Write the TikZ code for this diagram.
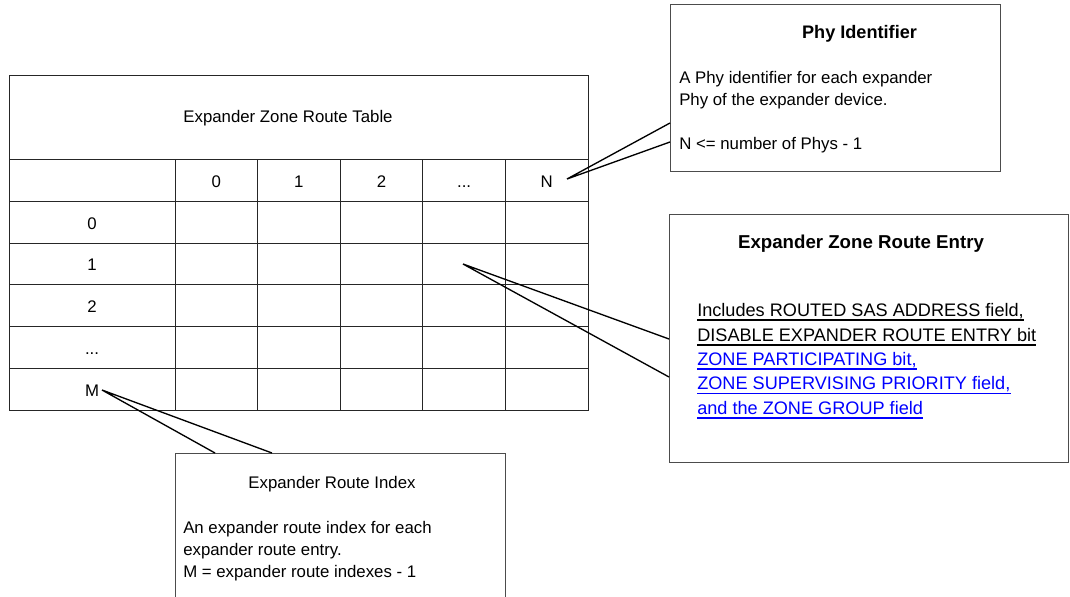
\documentclass[tikz,border=0pt]{standalone}
\usepackage{fontspec}
\setmainfont{Liberation Sans}
\newcommand\nsize{\fontsize{12.6pt}{15pt}\selectfont}
\newcommand\esize{\fontsize{13.6pt}{16pt}\selectfont}
\newcommand\tsize{\fontsize{14pt}{16pt}\selectfont}
\begin{document}
\begin{tikzpicture}[x=0.75pt,y=-0.75pt,
  tbl/.style={draw=black!85, line width=0.7pt},
  boxst/.style={draw=black!70, line width=0.8pt, fill=white, inner sep=0pt, anchor=north west},
  lbl/.style={inner sep=0pt, anchor=base, font=\nsize},
  body/.style={inner sep=0pt, anchor=base west, font=\nsize},
  ebody/.style={inner sep=0pt, anchor=base west, font=\esize},
  ttl/.style={inner sep=0pt, anchor=base, font=\esize\bfseries},
  uline/.style={line width=0.9pt},
  callout/.style={draw=black, line width=1pt}]
\useasboundingbox (0,0) rectangle (1070,596);
\clip (0,0) rectangle (1070,596);
% table
\draw[tbl] (9,75) rectangle (588,410);
\foreach \yy in {159,201,243,284,326,368}
  \draw[tbl] (9,\yy) -- (588,\yy);
\foreach \xx in {175,257.6,340.2,422.8,505.4}
  \draw[tbl] (\xx,159) -- (\xx,410);
\node[lbl] (ttable) at (288,122) {Expander Zone Route Table};
\node[lbl] (h0) at (216.3,187) {0};
\node[lbl] (h1) at (298.9,187) {1};
\node[lbl] (h2) at (381.5,187) {2};
\node[lbl] (hd) at (464.1,187) {...};
\node[lbl] (hn) at (546.7,187) {N};
\node[lbl] (r0) at (92,229) {0};
\node[lbl] (r1) at (92,270) {1};
\node[lbl] (r2) at (92,312) {2};
\node[lbl] (rd) at (92,354) {...};
\node[lbl] (rm) at (92,396) {M};
% boxes
\node[boxst, minimum width=247.5pt, minimum height=125.25pt] (phy) at (670,4) {};
\node[boxst, minimum width=299.25pt, minimum height=186pt] (entry) at (669,214) {};
\node[boxst, minimum width=247.5pt, minimum height=112pt] (index) at (175,453) {};
% phy text
\node[ttl] (phyt) at (859.5,38) {Phy Identifier};
\node[body] (phy1) at (679,83) {A Phy identifier for each expander};
\node[body] (phy2) at (679,105) {Phy of the expander device.};
\node[body] (phy3) at (679,149) {N <= number of Phys - 1};
% entry text
\node[ttl, font=\tsize\bfseries] (entt) at (861,248) {Expander Zone Route Entry};
\node[ebody] (ent1) at (697,316) {Includes ROUTED SAS ADDRESS field,};
\node[ebody] (ent2) at (697,341) {DISABLE EXPANDER ROUTE ENTRY bit};
\node[ebody, text=blue] (ent3) at (697,365) {ZONE PARTICIPATING bit,};
\node[ebody, text=blue] (ent4) at (697,389.5) {ZONE SUPERVISING PRIORITY field,};
\node[ebody, text=blue] (ent5) at (697,414) {and the ZONE GROUP field};
\foreach \n/\c in {ent1/black,ent2/black,ent3/blue,ent4/blue,ent5/blue}
  \draw[uline, draw=\c] ([yshift=-3pt]\n.base west) -- ([yshift=-3pt]\n.base east);
% index text
\node[lbl] (indt) at (332,488) {Expander Route Index};
\node[body] (ind1) at (183,533) {An expander route index for each};
\node[body] (ind2) at (183,555) {expander route entry.};
\node[body] (ind3) at (183,577) {M = expander route indexes - 1};
% callouts
\coordinate (ntip) at (567,179);
\coordinate (pa) at (670,123);
\coordinate (pb) at (670,142);
\draw[callout] (ntip) -- (pa) (ntip) -- (pb);
\coordinate (etip) at (463,264);
\coordinate (ea) at (669,339);
\coordinate (eb) at (669,377);
\draw[callout] (etip) -- (ea) (etip) -- (eb);
\coordinate (mtip) at (102,390);
\coordinate (ma) at (215,453);
\coordinate (mb) at (272,453);
\draw[callout] (mtip) -- (ma) (mtip) -- (mb);
\end{tikzpicture}
\end{document}
